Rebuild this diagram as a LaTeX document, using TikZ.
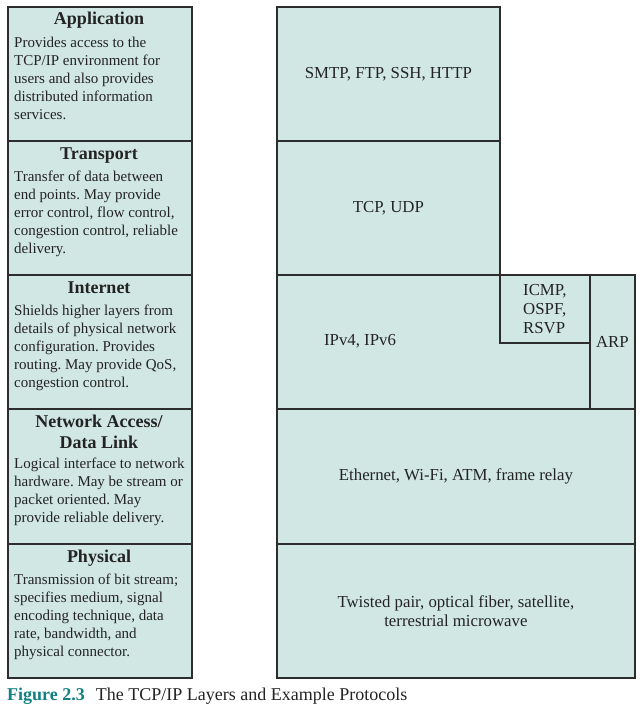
\documentclass[tikz,border=0pt]{standalone}
\usepackage{fontspec}
\setmainfont{Liberation Serif}
\usetikzlibrary{positioning}
\definecolor{layerfill}{RGB}{209,231,227}
\definecolor{layerline}{RGB}{45,45,45}
\definecolor{figteal}{RGB}{16,128,128}
\definecolor{inkgray}{RGB}{35,35,35}
\frenchspacing

\begin{document}
\begin{tikzpicture}[x=1pt,y=-1pt,
    box/.style={draw=layerline,fill=layerfill,line width=1.8pt,anchor=north west,inner sep=0pt},
    ttl/.style={anchor=base,inner sep=0pt,text=inkgray,font=\fontsize{18}{21}\selectfont\bfseries},
    desc/.style={anchor=base west,inner sep=0pt,align=left,text=inkgray,font=\fontsize{15}{18}\selectfont},
    proto/.style={align=center,text=inkgray,font=\fontsize{16.8}{19}\selectfont}]
    \useasboundingbox (0,0) rectangle (642,709);

    % left column: the layers (desc nodes sit on their last line)
    \node[box,minimum width=184pt,minimum height=134pt] (app) at (7,6) {};
    \node[ttl] (appT) at (99,25) {Application};
    \node[desc] (appD) at (14,119) {Provides access to the\\TCP/IP environment for\\users and also provides\\distributed information\\services.};

    \node[box,minimum width=184pt,minimum height=134pt] (trans) at (7,140) {};
    \node[ttl] (transT) at (99,159) {Transport};
    \node[desc] (transD) at (14,253) {Transfer of data between\\end points. May provide\\error control, flow control,\\congestion control, reliable\\delivery.};

    \node[box,minimum width=184pt,minimum height=134pt] (inet) at (7,274) {};
    \node[ttl] (inetT) at (99,293) {Internet};
    \node[desc] (inetD) at (14,387) {Shields higher layers from\\details of physical network\\configuration. Provides\\routing. May provide QoS,\\congestion control.};

    \node[box,minimum width=184pt,minimum height=135pt] (link) at (7,408) {};
    \node[ttl,align=center] (linkT) at (99,448) {Network Access/\\Data Link};
    \node[desc] (linkD) at (14,522) {Logical interface to network\\hardware. May be stream or\\packet oriented. May\\provide reliable delivery.};

    \node[box,minimum width=184pt,minimum height=134pt] (phys) at (7,543) {};
    \node[ttl] (physT) at (99,562) {Physical};
    \node[desc] (physD) at (14,656) {Transmission of bit stream;\\specifies medium, signal\\encoding technique, data\\rate, bandwidth, and\\physical connector.};

    % right column: example protocols
    \node[box,proto,minimum width=223pt,minimum height=134pt] (appP) at (276,6) {SMTP, FTP, SSH, HTTP};
    \node[box,proto,minimum width=223pt,minimum height=134pt] (transP) at (276,140) {TCP, UDP};

    \node[box,minimum width=358pt,minimum height=134pt] (ipP) at (276,274) {};
    \node[proto] (ipT) at (360,341) {IPv4, IPv6};
    \node[box,proto,align=left,minimum width=90pt,minimum height=68pt] (icmp) at (499,274) {ICMP,\\OSPF,\\RSVP};
    \node[box,proto,minimum width=45pt,minimum height=134pt] (arp) at (589,274) {ARP};

    \node[box,proto,minimum width=358pt,minimum height=135pt] (linkP) at (276,408) {Ethernet, Wi-Fi, ATM, frame relay};
    \node[box,proto,minimum width=358pt,minimum height=134pt] (physP) at (276,543) {Twisted pair, optical fiber, satellite,\\terrestrial microwave};

    % caption
    \node[anchor=base west,inner sep=0pt,text=inkgray,font=\fontsize{18}{21}\selectfont] (cap) at (7,700)
        {\textcolor{figteal}{\bfseries Figure 2.3}\hspace{11pt}The TCP/IP Layers and Example Protocols};
\end{tikzpicture}
\end{document}
